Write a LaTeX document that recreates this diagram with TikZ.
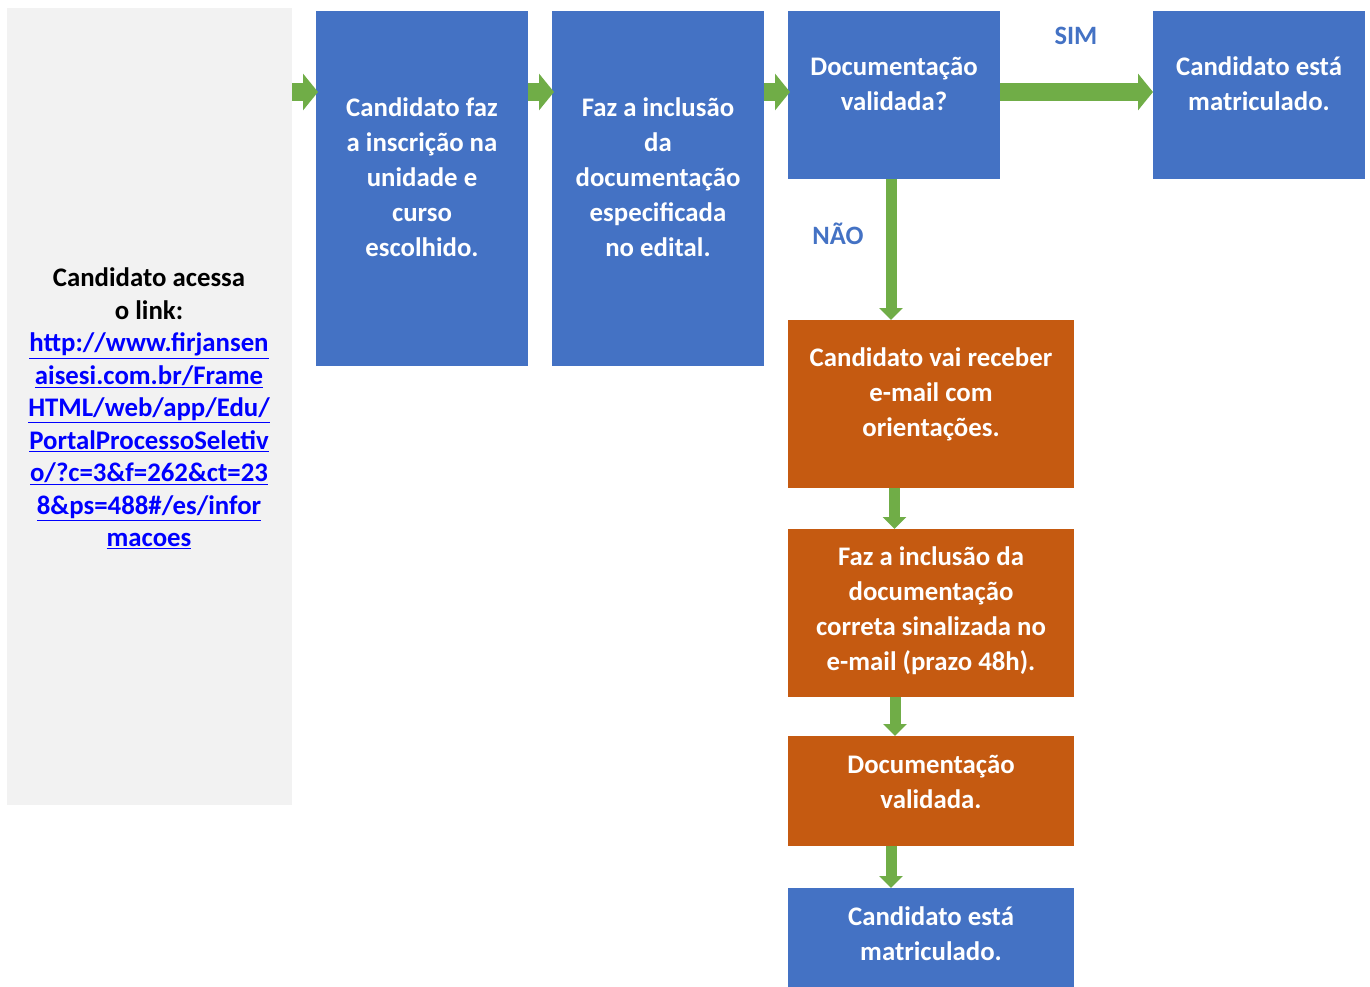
\documentclass[tikz,border=0pt]{standalone}
\usepackage{fontspec}
\setmainfont{Carlito}
\usetikzlibrary{arrows.meta,calc}
\definecolor{cblue}{HTML}{4472C4}
\definecolor{corange}{HTML}{C55A11}
\definecolor{cgreen}{HTML}{70AD47}
\definecolor{cgray}{HTML}{F2F2F2}
\definecolor{clink}{HTML}{0000FF}
\tikzset{
  box/.style={draw=none, inner sep=0pt, outer sep=0pt},
  bluebox/.style={box, fill=cblue},
  orangebox/.style={box, fill=corange},
  graybox/.style={box, fill=cgray},
  wt/.style={text=white, inner sep=0pt, align=center, font=\fontsize{26.8}{35}\selectfont\bfseries},
  bt/.style={text=black, inner sep=0pt, align=center, font=\fontsize{26.8}{32.5}\selectfont\bfseries},
  lbl/.style={text=cblue, inner sep=0pt, font=\fontsize{26.5}{30}\selectfont\bfseries},
  harrow/.style={draw=cgreen, line width=18pt, -{Triangle[width=36pt,length=15pt]}},
  varrow/.style={draw=cgreen, line width=11pt, -{Triangle[width=23pt,length=12pt]}},
}
\newcommand{\lnk}[1]{\textcolor{clink}{\underline{#1}}}
\begin{document}
\begin{tikzpicture}[x=1pt,y=-1pt]
\useasboundingbox (0,0) rectangle (1370,987);
% boxes
\node[graybox, minimum width=285pt, minimum height=797pt] (g) at (149.5,406.5) {};
\node[bluebox, minimum width=212pt, minimum height=355pt] (b1) at (422,188.5) {};
\node[bluebox, minimum width=212pt, minimum height=355pt] (b2) at (658,188.5) {};
\node[bluebox, minimum width=212pt, minimum height=168pt] (b3) at (894,95) {};
\node[bluebox, minimum width=212pt, minimum height=168pt] (b4) at (1259,95) {};
\node[orangebox, minimum width=286pt, minimum height=168pt] (o1) at (931,404) {};
\node[orangebox, minimum width=286pt, minimum height=168pt] (o2) at (931,613) {};
\node[orangebox, minimum width=286pt, minimum height=110pt] (o3) at (931,791) {};
\node[bluebox, minimum width=286pt, minimum height=99pt] (b5) at (931,937.5) {};
% texts
\node[bt] (tg) at (149,408.5) {Candidato acessa\\o link:\\
\lnk{http://www.firjansen}\\
\lnk{aisesi.com.br/Frame}\\
\lnk{HTML/web/app/Edu/}\\
\lnk{PortalProcessoSeletiv}\\
\lnk{o/?c=3\&f=262\&ct=23}\\
\lnk{8\&ps=488\#/es/infor}\\
\lnk{macoes}};
\node[wt] (t1) at (422,177.5) {Candidato faz\\a inscrição na\\unidade e\\curso\\escolhido.};
\node[wt] (t2) at (658,177.5) {Faz a inclusão\\da\\documentação\\especificada\\no edital.};
\node[wt] (t3) at (894,84) {Documentação\\validada?};
\node[wt] (t4) at (1259,84) {Candidato está\\matriculado.};
\node[wt] (t5) at (931,394) {Candidato vai receber\\e-mail com\\orientações.};
\node[wt] (t6) at (931,610.5) {Faz a inclusão da\\documentação\\correta sinalizada no\\e-mail (prazo 48h).};
\node[wt] (t7) at (931,782) {Documentação\\validada.};
\node[wt] (t8) at (931,934) {Candidato está\\matriculado.};
\node[lbl] (sim) at (1076,36) {SIM};
\node[lbl] (nao) at (838,234) {NÃO};
% connectors
\coordinate (ay) at (0,92);
\draw[harrow] (g.east |- ay) -- ($(b1.west |- ay)+(2,0)$);
\draw[harrow] (b1.east |- ay) -- ($(b2.west |- ay)+(2,0)$);
\draw[harrow] (b2.east |- ay) -- ($(b3.west |- ay)+(2,0)$);
\draw[harrow] (b3.east |- ay) -- (b4.west |- ay);
\coordinate (nx) at (891,0);
\draw[varrow] (b3.south -| nx) -- (o1.north -| nx);
\coordinate (ox1) at (894.5,0);
\draw[varrow] (o1.south -| ox1) -- (o2.north -| ox1);
\coordinate (ox2) at (895,0);
\draw[varrow] (o2.south -| ox2) -- (o3.north -| ox2);
\coordinate (ox3) at (891,0);
\draw[varrow] (o3.south -| ox3) -- (b5.north -| ox3);
\end{tikzpicture}
\end{document}
